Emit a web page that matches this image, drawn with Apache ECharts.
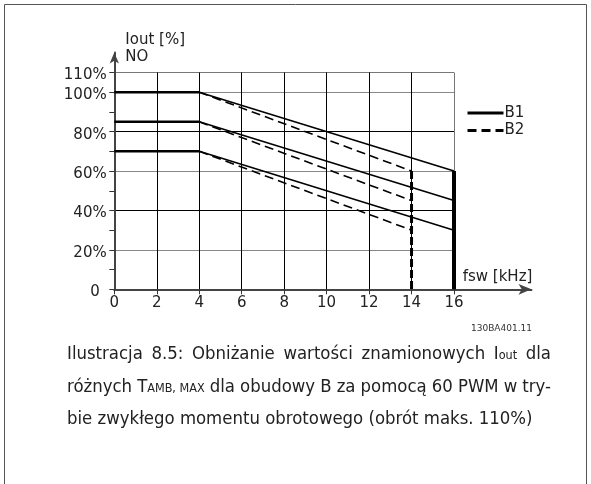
<!DOCTYPE html>
<html>
<head>
<meta charset="utf-8">
<script src="https://cdn.jsdelivr.net/npm/echarts@6/dist/echarts.min.js"></script>
<style>
html,body{margin:0;padding:0;background:#fff;}
#c{width:591px;height:484px;}
</style>
</head>
<body>
<div id="c"></div>
<script>
// ---- data ----
const tempLabels = ['45°C', '50°C', '55°C'];
const startLevel = [100, 85, 70];   // Iout [%] between 0 and 4 kHz
const b1EndLevel = [60, 45, 30];    // Iout [%] at 16 kHz (B1)
const b2EndLevel = [60, 45, 30];    // Iout [%] at 14 kHz (B2)
const kneeFsw = 4;
const b1MaxFsw = 16;
const b2MaxFsw = 14;
const xTickValues = [0, 2, 4, 6, 8, 10, 12, 14, 16];
const yLabelValues = [0, 20, 40, 60, 80, 100, 110];
const yTickValues = [0, 10, 20, 30, 40, 50, 60, 70, 80, 90, 100, 110];
const legendNames = ['B1', 'B2'];
const captionLines = [
  ['Ilustracja', '8.5:', 'Obniżanie', 'wartości', 'znamionowych', 'I{s|out}', 'dla'],
  ['różnych', 'T{s|AMB, MAX}', 'dla', 'obudowy', 'B', 'za', 'pomocą', '60', 'PWM', 'w', 'try-'],
  ['bie zwykłego momentu obrotowego (obrót maks. 110%)']
];

// ---- layout helpers ----
const FONT = 'DejaVu Sans';
const CAP_FONT = '"DejaVu Sans Condensed", "DejaVu Sans"';
const TXT = '#222';
const G = {left: 114.3, top: 72.5, right: 454, bottom: 289.3};
const NONE = 'rgba(0,0,0,0)';

const chart = echarts.init(document.getElementById('c'), null, {renderer: 'canvas'});

const series = [];
for (let i = 0; i < tempLabels.length; i++) {
  series.push({
    name: '_flat', type: 'line', xAxisIndex: 0, yAxisIndex: 0, symbol: 'none',
    itemStyle: {color: '#000'},
    lineStyle: {color: '#000', width: 2.5}, z: 5,
    data: [[0, startLevel[i]], [kneeFsw, startLevel[i]]]
  });
  series.push({
    name: 'B2', type: 'line', xAxisIndex: 0, yAxisIndex: 0, symbol: 'none',
    itemStyle: {color: '#000'},
    lineStyle: {color: '#000', width: 1.6, type: [9, 5]}, z: 4,
    data: [[kneeFsw, startLevel[i]], [b2MaxFsw, b2EndLevel[i]]]
  });
  series.push({
    name: 'B1', type: 'line', xAxisIndex: 0, yAxisIndex: 0, symbol: 'none',
    itemStyle: {color: '#000'},
    lineStyle: {color: '#000', width: 1.6}, z: 5,
    data: [[kneeFsw, startLevel[i]], {
      value: [b1MaxFsw, b1EndLevel[i]],
      label: {show: true, position: 'right', distance: 11, formatter: tempLabels[i],
              fontFamily: FONT, fontSize: 15, color: TXT}
    }]
  });
}
series.push({
  name: '_dropB1', type: 'line', xAxisIndex: 0, yAxisIndex: 0, symbol: 'none',
  itemStyle: {color: '#000'},
  lineStyle: {color: '#000', width: 4}, z: 6,
  data: [[b1MaxFsw, b1EndLevel[0]], [b1MaxFsw, 0]]
});
series.push({
  name: '_dropB2', type: 'line', xAxisIndex: 0, yAxisIndex: 0, symbol: 'none',
  itemStyle: {color: '#000'},
  lineStyle: {color: '#000', width: 3, type: [8, 3]}, z: 6,
  data: [[b2MaxFsw, b2EndLevel[0]], [b2MaxFsw, 0]]
});

// ---- caption (justified) ----
const measCtx = document.createElement('canvas').getContext('2d');
function tokens(word) {
  const out = []; const re = /\{s\|([^}]*)\}/g; let last = 0, m;
  while ((m = re.exec(word))) {
    if (m.index > last) out.push({t: word.slice(last, m.index), s: false});
    out.push({t: m[1], s: true}); last = re.lastIndex;
  }
  if (last < word.length) out.push({t: word.slice(last), s: false});
  return out;
}
function measure(word, size) {
  let w = 0;
  tokens(word).forEach(tk => {
    measCtx.font = (tk.s ? size * 0.68 : size) + 'px ' + CAP_FONT;
    w += measCtx.measureText(tk.t).width;
  });
  return w;
}
const capLeft = 67, capRight = 551, lastLineWidth = 466;
const capSize = lastLineWidth / measure(captionLines[2][0], 1);
const capY = [354, 387, 419];
const graphics = [];
captionLines.forEach((words, li) => {
  const widths = words.map(w => measure(w, capSize));
  const total = widths.reduce((a, b) => a + b, 0);
  const gap = words.length > 1 && li < captionLines.length - 1
    ? (capRight - capLeft - total) / (words.length - 1) : 0;
  let x = capLeft;
  words.forEach((w, wi) => {
    graphics.push({
      type: 'text', x: x, y: capY[li], silent: true,
      style: {
        text: w, fontFamily: CAP_FONT, fontSize: capSize, fill: TXT,
        align: 'left', verticalAlign: 'middle',
        rich: {s: {fontFamily: CAP_FONT, fontSize: capSize * 0.68, fill: TXT, verticalAlign: 'bottom', padding: [0, 0, 1, 0]}}
      }
    });
    x += widths[wi] + gap;
  });
});
graphics.push(
  {type: 'rect', silent: true, shape: {x: 4.5, y: 4.5, width: 582, height: 520},
   style: {fill: 'none', stroke: '#555', lineWidth: 1}},
  {type: 'text', x: 125.3, y: 40, silent: true,
   style: {text: 'Iout [%]', fontFamily: FONT, fontSize: 15, fill: TXT, align: 'left', verticalAlign: 'middle'}},
  {type: 'text', x: 125.3, y: 56.7, silent: true,
   style: {text: 'NO', fontFamily: FONT, fontSize: 15, fill: TXT, align: 'left', verticalAlign: 'middle'}},
  {type: 'text', x: 462.7, y: 276.7, silent: true,
   style: {text: 'fsw [kHz]', fontFamily: FONT, fontSize: 15, fill: TXT, align: 'left', verticalAlign: 'middle'}},
  {type: 'text', x: 471, y: 328.5, silent: true,
   style: {text: '130BA401.11', fontFamily: FONT, fontSize: 9, fill: '#333', align: 'left', verticalAlign: 'middle'}}
);

const option = {
  animation: false,
  backgroundColor: '#fff',
  color: ['#000'],
  grid: [
    {left: G.left, top: G.top, width: G.right - G.left, height: G.bottom - G.top},
    {left: G.left, top: 52.5, width: 531.5 - G.left, height: G.bottom - 52.5}
  ],
  legend: {
    data: legendNames, orient: 'vertical', left: 466, top: 105.5, padding: 0,
    itemWidth: 36, itemHeight: 14, itemGap: 2.6,
    itemStyle: {opacity: 0},
    lineStyle: {width: 3, color: '#000'},
    textStyle: {fontFamily: FONT, fontSize: 15, color: TXT, padding: [0, 0, 0, -4]},
    selectedMode: false
  },
  xAxis: [
    {type: 'value', gridIndex: 0, min: 0, max: 16, interval: 2,
     axisLine: {show: false},
     axisTick: {show: true, length: 5, lineStyle: {color: '#333', width: 1}},
     axisLabel: {fontFamily: FONT, fontSize: 15, color: TXT, margin: 6},
     splitLine: {show: true, lineStyle: {color: ['#000', '#000', '#000', '#000', '#000', '#000', '#000', '#000', '#777'], width: 1}}},
    {type: 'value', gridIndex: 1, min: 0, max: 1,
     axisLine: {show: true, lineStyle: {color: '#444', width: 2}, symbol: ['none', 'arrow'], symbolSize: [8, 13]},
     axisTick: {show: false}, axisLabel: {show: false}, splitLine: {show: false}}
  ],
  yAxis: [
    {type: 'value', gridIndex: 0, min: 0, max: 110, interval: 20,
     axisLine: {show: false},
     axisTick: {show: true, length: 5, lineStyle: {color: '#333', width: 1}, customValues: yTickValues},
     axisLabel: {fontFamily: FONT, fontSize: 15, color: TXT, margin: 7.6, padding: [6, 0, 0, 0],
                 customValues: yLabelValues,
                 formatter: v => v === 0 ? '{z|0}' : v + '%',
                 rich: {z: {fontFamily: FONT, fontSize: 15, color: TXT, padding: [0, 7, 0, 0]}}},
     splitLine: {show: true, lineStyle: {
       color: ['#444', NONE, '#888', NONE, '#000', NONE, '#888', NONE, '#000', NONE, '#888', '#777'], width: 1}}},
    {type: 'value', gridIndex: 1, min: 0, max: 1,
     axisLine: {show: true, lineStyle: {color: '#444', width: 2}, symbol: ['none', 'arrow'], symbolSize: [7, 11]},
     axisTick: {show: false}, axisLabel: {show: false}, splitLine: {show: false}}
  ],
  series: series,
  graphic: graphics
};
chart.setOption(option);
</script>
</body>
</html>
